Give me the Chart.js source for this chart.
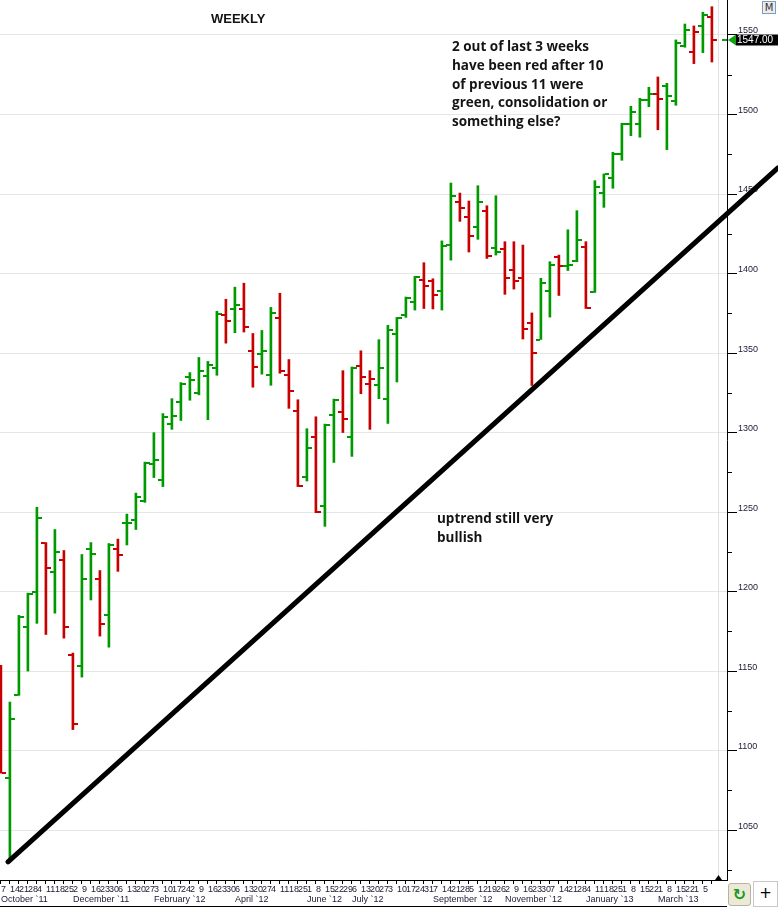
<!DOCTYPE html>
<html>
<head>
<meta charset="utf-8">
<title>Weekly</title>
<script src="https://cdn.jsdelivr.net/npm/chart.js@4.4.1/dist/chart.umd.min.js"></script>
<style>
  html, body { margin: 0; padding: 0; background: #fff; }
  #wrap { position: relative; width: 778px; height: 908px; overflow: hidden; }
  .txt { position: absolute; color: #141414; white-space: nowrap; }
  .title { left: 211px; top: 11px; font: bold 13px/16px "Liberation Sans", Arial, sans-serif; }
  .note { font-family: "Open Sans", "Noto Sans", sans-serif; font-weight: bold; font-size: 13.5px; line-height: 18.75px; }
  .btn { position: absolute; box-sizing: border-box; text-align: center; font-family: "DejaVu Sans", sans-serif; }
  .bottomline { position: absolute; left: 0; top: 906px; width: 727px; height: 1px; background: #000; }
</style>
</head>
<body>
<div id="wrap">
  <canvas id="weekly"></canvas>
  <div class="txt title">WEEKLY</div>
  <div class="txt note" style="left:452px;top:37px;">2 out of last 3 weeks<br>have been red after 10<br>of previous 11 were<br>green, consolidation or<br>something else?</div>
  <div class="txt note" style="left:437px;top:509px;">uptrend still very<br>bullish</div>
  <div class="btn" style="left:762px;top:1px;width:14px;height:13px;border:1px solid #7f9db9;background:#ececec;font-size:10px;line-height:11px;color:#333;">M</div>
  <div class="btn" style="left:728px;top:883px;width:23px;height:23px;border:1px solid #b8b39c;border-radius:3px;background:#ece9d8;color:#1c9a1c;font-size:16px;font-weight:bold;line-height:21px;">↻</div>
  <div class="btn" style="left:753px;top:881px;width:25px;height:26px;border:1px solid #c8c8c8;background:#fff;color:#000;font-size:15px;line-height:23px;">+</div>
  <div class="bottomline"></div>
</div>
<script>
// weekly bars, Oct 2011 - Apr 2013
const dayLabels = ['7','14','21','28','4','11','18','25','2','9','16','23','30','6','13','20','27','3','10','17',
  '24','2','9','16','23','30','6','13','20','27','4','11','18','25','1','8','15','22','29','6',
  '13','20','27','3','10','17','24','31','7','14','21','28','5','12','19','26','2','9','16','23',
  '30','7','14','21','28','4','11','18','25','1','8','15','22','1','8','15','22','1','5',''];
const monthLabels = ['October `11','December `11','February `12','April `12','June `12','July `12',
  'September `12','November `12','January `13','March `13'];
const monthStart = [0, 8, 17, 26, 34, 39, 48, 56, 65, 73];

const opens = [1150, 1082.8, 1134.7, 1178, 1199.6, 1230.5, 1212, 1220, 1160, 1153,
  1226.6, 1207.6, 1185, 1227, 1242.8, 1244.7, 1257.2, 1280.5, 1270.4, 1305.1,
  1319, 1334.8, 1325.1, 1335.8, 1340.4, 1373.9, 1377.7, 1377.7, 1351.2, 1349.1,
  1336, 1372, 1336, 1313.3, 1272, 1297.2, 1253.5, 1311.2, 1312.7, 1296.9,
  1341.6, 1330.3, 1330.1, 1320.8, 1361.7, 1373.6, 1382.1, 1396.2, 1395, 1388.7,
  1417.7, 1445.2, 1435.3, 1429, 1439.5, 1415.8, 1415.2, 1402.5, 1396.9, 1368.7,
  1358.5, 1388.7, 1410.6, 1404.5, 1407.6, 1416.9, 1388.6, 1450.4, 1460.3, 1475.2,
  1494.2, 1494.2, 1509.1, 1513.1, 1517.7, 1508.7, 1543.3, 1539, 1555.9, 1561.5];
const highs = [1153.6, 1130.5, 1185, 1199, 1253, 1230.8, 1239, 1225.8, 1161.3, 1223.3,
  1230.8, 1213.2, 1230.2, 1233, 1248.7, 1261.9, 1281.4, 1299.9, 1311.9, 1321.3,
  1331.4, 1337.7, 1347.2, 1344.7, 1376.2, 1383.8, 1391.4, 1393.9, 1362.3, 1364.2,
  1378.7, 1387.6, 1345.9, 1320.6, 1302.4, 1309.9, 1305.3, 1321, 1338.9, 1341.2,
  1351.4, 1338.9, 1358.4, 1367.4, 1372.4, 1385.2, 1398.2, 1406.8, 1396.7, 1420.5,
  1456.9, 1450.6, 1445.6, 1455.2, 1442.6, 1448.9, 1420, 1420, 1417.9, 1375.2,
  1397, 1407.4, 1411.6, 1427.5, 1439.5, 1420, 1458.4, 1462.6, 1476.2, 1494.5,
  1505.2, 1510.2, 1517.1, 1523.6, 1519.6, 1546.9, 1556.9, 1555.7, 1564.3, 1567.8];
const lows = [1085.8, 1030, 1134.7, 1150, 1180, 1173, 1186.4, 1170.7, 1113.2, 1146.2,
  1194.7, 1172, 1165, 1212.7, 1229.3, 1239, 1256.1, 1271.7, 1266, 1302,
  1307.6, 1320.3, 1323.7, 1308.1, 1336, 1356.2, 1362.8, 1363.2, 1328.5, 1336.7,
  1329.7, 1337.3, 1315.2, 1266, 1269.5, 1249.6, 1241, 1281.2, 1300, 1285,
  1324.4, 1302, 1321.3, 1305.7, 1331.8, 1372.4, 1377, 1378, 1377.7, 1377,
  1408.4, 1432.8, 1413.5, 1421.5, 1409.5, 1411.6, 1386.9, 1390.2, 1358.8, 1329.6,
  1358.5, 1372.6, 1386.2, 1401.9, 1407.4, 1378, 1388.1, 1441.6, 1453.6, 1471.2,
  1486.7, 1485.7, 1504.9, 1490.4, 1477.9, 1505.8, 1542.3, 1532, 1538.9, 1533];
const closes = [1086, 1119.7, 1184, 1198.6, 1246, 1214.7, 1225, 1177.6, 1117, 1207.7,
  1223.5, 1179.3, 1229.2, 1222.8, 1243.3, 1259.7, 1281, 1283, 1309.5, 1310.2,
  1330.6, 1332.9, 1338.6, 1342.3, 1374.8, 1370.1, 1380.4, 1366.3, 1341.1, 1351.2,
  1375.1, 1338.6, 1325.8, 1266.1, 1290, 1249.9, 1304.9, 1320.6, 1308.5, 1340.3,
  1334.7, 1333.8, 1340.8, 1364.5, 1371.8, 1384.3, 1397.5, 1392.3, 1386.7, 1417.5,
  1448.5, 1440.9, 1423.3, 1444.7, 1410.8, 1413.5, 1397.2, 1395.3, 1365.3, 1350,
  1394, 1405.2, 1404.5, 1405.1, 1421.3, 1378, 1454.4, 1462.4, 1475.4, 1494,
  1501.8, 1509.1, 1512.9, 1509.7, 1511.8, 1545.2, 1553.4, 1552.1, 1562.8, 1547];

// hand drawn uptrend line (bar index, price)
const trendX = [0.79, 86.34];
const trendY = [1030, 1466.4];

const upColor = '#009a00';
const downColor = '#c80000';
const xMin = -0.1, xMax = 80.68;
const yMin = 1018.6, yMax = 1572;

// bar colour follows close vs previous close
const isUp = closes.map((c, i) => i === 0 ? c >= opens[0] : c >= closes[i - 1]);
const barColors = isUp.map(u => u ? upColor : downColor);

function tickImage(color, left) {
  const c = document.createElement('canvas');
  c.width = 10;
  c.height = 2;
  const g = c.getContext('2d');
  g.fillStyle = color;
  g.fillRect(left ? 0 : 6, 0, 4, 2);
  return c;
}
const openUp = tickImage(upColor, true), openDown = tickImage(downColor, true);
const closeUp = tickImage(upColor, false), closeDown = tickImage(downColor, false);

const axisFont = { family: '"Liberation Sans", Arial, sans-serif', size: 9 };
const labelColor = '#1a1a33';

const decorations = {
  id: 'decorations',
  beforeDatasetsDraw(chart) {
    const { ctx, chartArea, scales } = chart;
    const x = Math.round(scales.x.getPixelForValue(closes.length - 1 + 0.65)) + 0.5;
    ctx.save();
    ctx.strokeStyle = '#e0e0e0';
    ctx.lineWidth = 1;
    ctx.beginPath();
    ctx.moveTo(x, chartArea.top);
    ctx.lineTo(x, chartArea.bottom);
    ctx.stroke();
    ctx.fillStyle = '#000';
    ctx.beginPath();
    ctx.moveTo(x - 3.5, chartArea.bottom);
    ctx.lineTo(x + 3.5, chartArea.bottom);
    ctx.lineTo(x, chartArea.bottom - 5);
    ctx.closePath();
    ctx.fill();
    ctx.restore();
  },
  afterDraw(chart) {
    const { ctx, chartArea, scales } = chart;
    const rx = chartArea.right;
    ctx.save();
    // minor ticks
    ctx.strokeStyle = '#000';
    ctx.lineWidth = 1;
    scales.y.ticks.forEach(t => {
      if (t.value % 50 !== 0) {
        const py = Math.round(scales.y.getPixelForValue(t.value)) + 0.5;
        ctx.beginPath();
        ctx.moveTo(rx, py);
        ctx.lineTo(rx + 5, py);
        ctx.stroke();
      }
    });
    // last price tag
    const last = closes[closes.length - 1];
    const py = Math.round(scales.y.getPixelForValue(last));
    ctx.fillStyle = '#14a014';
    ctx.fillRect(rx - 5, py - 1, 5, 2);
    ctx.beginPath();
    ctx.moveTo(rx + 1, py);
    ctx.lineTo(rx + 9, py - 5.5);
    ctx.lineTo(rx + 9, py + 5.5);
    ctx.closePath();
    ctx.fill();
    ctx.fillStyle = '#000';
    ctx.fillRect(rx + 9, py - 5.5, chart.width - rx - 9, 11);
    ctx.fillStyle = '#fff';
    ctx.font = '10px "Liberation Sans", Arial, sans-serif';
    ctx.textBaseline = 'middle';
    ctx.textAlign = 'left';
    ctx.fillText(last.toFixed(2), rx + 10, py + 0.5);
    ctx.restore();
  }
};

new Chart(document.getElementById('weekly'), {
  type: 'bar',
  data: {
    datasets: [
      {
        type: 'line',
        data: trendX.map((x, i) => ({ x: x, y: trendY[i] })),
        borderColor: '#000',
        borderWidth: 5,
        borderCapStyle: 'round',
        pointRadius: 0,
        clip: false,
        order: 0
      },
      {
        type: 'bar',
        data: highs.map((h, i) => ({ x: i, y: [lows[i], h] })),
        backgroundColor: barColors,
        borderWidth: 0,
        barThickness: 2,
        order: 2
      },
      {
        type: 'scatter',
        data: opens.map((o, i) => ({ x: i, y: o })),
        pointStyle: ctx => isUp[ctx.dataIndex] ? openUp : openDown,
        pointRadius: 3,
        order: 1
      },
      {
        type: 'scatter',
        data: closes.map((c, i) => ({ x: i, y: c })),
        pointStyle: ctx => isUp[ctx.dataIndex] ? closeUp : closeDown,
        pointRadius: 3,
        order: 1
      }
    ]
  },
  options: {
    responsive: true,
    maintainAspectRatio: false,
    animation: false,
    events: [],
    layout: { padding: 0, autoPadding: false },
    plugins: { legend: { display: false }, tooltip: { enabled: false } },
    scales: {
      x: {
        type: 'linear',
        position: 'bottom',
        min: xMin,
        max: xMax,
        offset: false,
        weight: 0,
        afterBuildTicks: s => { s.ticks = dayLabels.map((d, i) => ({ value: i })); },
        ticks: {
          autoSkip: false, maxRotation: 0, minRotation: 0, align: 'start', padding: 0,
          color: labelColor, font: axisFont,
          callback: v => dayLabels[v]
        },
        grid: { drawOnChartArea: false, tickLength: 4, tickColor: '#000', offset: false },
        border: { color: '#000', width: 1 },
        afterFit: s => { s.height = 14; s.paddingLeft = 0; s.paddingRight = 0; }
      },
      x2: {
        type: 'linear',
        position: 'bottom',
        min: xMin,
        max: xMax,
        offset: false,
        weight: 1,
        afterBuildTicks: s => { s.ticks = monthStart.map(v => ({ value: v })); },
        ticks: {
          autoSkip: false, maxRotation: 0, minRotation: 0, align: 'start', padding: 0,
          color: labelColor, font: axisFont,
          callback: (v, i) => monthLabels[i]
        },
        grid: { display: false, drawTicks: false },
        border: { display: false },
        afterFit: s => { s.height = 14; s.paddingLeft = 0; s.paddingRight = 0; }
      },
      y: {
        position: 'right',
        min: yMin,
        max: yMax,
        ticks: {
          stepSize: 25, includeBounds: false, autoSkip: false, padding: 1, labelOffset: -4,
          color: labelColor, font: axisFont,
          callback: v => v % 50 === 0 ? v : ''
        },
        grid: {
          color: ctx => ctx.tick && ctx.tick.value % 50 === 0 ? '#e6e6e6' : 'rgba(0,0,0,0)',
          tickColor: ctx => ctx.tick && ctx.tick.value % 50 === 0 ? '#000' : 'rgba(0,0,0,0)',
          tickLength: 10
        },
        border: { color: '#000', width: 1 },
        afterFit: s => { s.width = 51; s.paddingTop = 0; s.paddingBottom = 0; }
      }
    }
  },
  plugins: [decorations]
});
</script>
</body>
</html>
